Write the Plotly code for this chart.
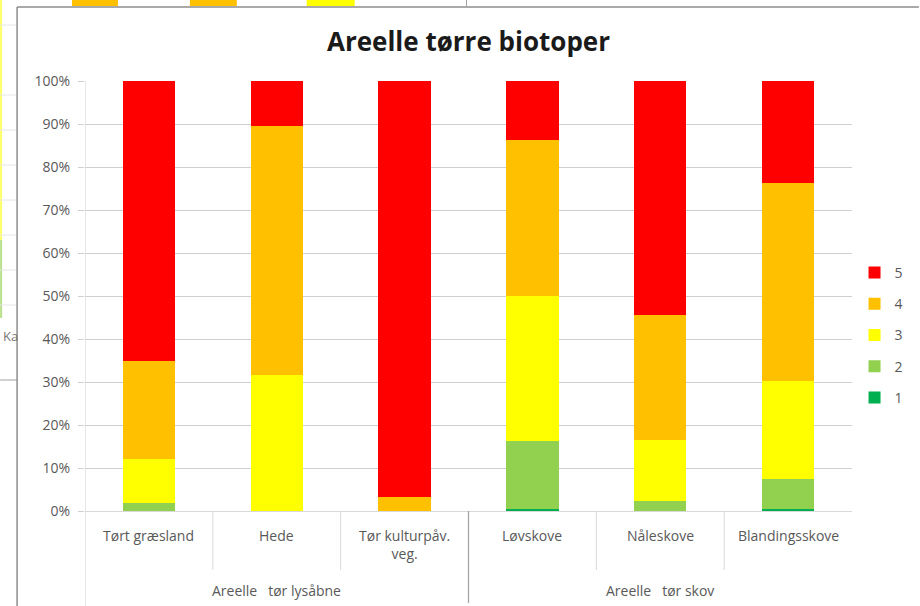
import plotly.graph_objects as go

categories = ["Tørt græsland", "Hede", "Tør kulturpåv.<br>veg.", "Løvskove", "Nåleskove", "Blandingsskove"]
groups = ["Areelle\u00a0\u00a0\u00a0tør lysåbne", "Areelle\u00a0\u00a0\u00a0tør skov"]
group_members = [[0, 1, 2], [3, 4, 5]]

series_names = ["1", "2", "3", "4", "5"]
v1 = [0.0, 0.0, 0.0, 0.4, 0.0, 0.4]
v2 = [1.8, 0.0, 0.0, 15.9, 2.3, 7.0]
v3 = [10.2, 31.6, 0.0, 33.7, 14.2, 22.8]
v4 = [23.0, 58.0, 3.2, 36.3, 29.1, 46.1]
v5 = [65.0, 10.4, 96.8, 13.7, 54.4, 23.7]
series_values = [v1, v2, v3, v4, v5]
colors = ["#00B050", "#92D050", "#FFFF00", "#FFC000", "#FF0000"]

y_ticks = list(range(0, 101, 10))

FONT = "Open Sans, Noto Sans, sans-serif"
GREY = "#595959"

fig = go.Figure()
for k, (name, vals, col) in enumerate(zip(series_names, series_values, colors)):
    fig.add_trace(go.Bar(
        x=list(range(len(categories))), y=vals, name=name,
        marker=dict(color=col, line=dict(width=0)),
        legendgroup=name, legendrank=1000 - k,
    ))

# plot area in pixels: x 85..853, y 81..511
L, R, T, B = 85, 853, 81, 511
def px(x):
    return (x - L) / (R - L)
def py(y):
    return (B - y) / (B - T)

shapes = []
# category dividers below axis
n = len(categories)
for i in range(n + 1):
    xb = i - 0.5
    if i == 0:
        shapes.append(dict(type="line", xref="x", yref="paper", x0=xb, x1=xb,
                           y0=py(606), y1=1, line=dict(color="#d0d0d0", width=1)))
    elif i == 3:
        shapes.append(dict(type="line", xref="x", yref="paper", x0=xb, x1=xb,
                           y0=py(603), y1=0, line=dict(color="#a6a6a6", width=1.3)))
    elif i < n:
        shapes.append(dict(type="line", xref="x", yref="paper", x0=xb, x1=xb,
                           y0=py(570), y1=0, line=dict(color="#d9d9d9", width=1)))

# background window remnants (frame and other chart behind)
bg = [
    ((72, 0, 118, 6), "#FFC000"),
    ((190, 0, 237, 6), "#FFC000"),
    ((307, 0, 355, 6), "#FFFF00"),
]
for (x0, y0, x1, y1), c in bg:
    shapes.append(dict(type="rect", xref="paper", yref="paper", x0=px(x0), x1=px(x1),
                       y0=py(y1), y1=py(y0), fillcolor=c, line=dict(width=0), layer="below"))
shapes.append(dict(type="line", xref="paper", yref="paper", x0=px(1), x1=px(1),
                   y0=py(240), y1=py(0), line=dict(color="#ffff66", width=2)))
shapes.append(dict(type="line", xref="paper", yref="paper", x0=px(1), x1=px(1),
                   y0=py(318), y1=py(240), line=dict(color="#b8e08a", width=2)))
for gy in [25, 95, 130, 165, 200, 235, 270, 305]:
    shapes.append(dict(type="line", xref="paper", yref="paper", x0=px(0), x1=px(16),
                       y0=py(gy), y1=py(gy), line=dict(color="#e6e6e6", width=1)))
shapes.append(dict(type="line", xref="paper", yref="paper", x0=px(0), x1=px(17),
                   y0=py(380), y1=py(380), line=dict(color="#a0a0a0", width=1)))
shapes.append(dict(type="line", xref="paper", yref="paper", x0=px(467), x1=px(467),
                   y0=py(6), y1=py(0), line=dict(color="#a0a0a0", width=1)))
# chart frame
shapes.append(dict(type="line", xref="paper", yref="paper", x0=px(17), x1=px(920),
                   y0=py(7), y1=py(7), line=dict(color="#8c8c8c", width=1.5)))
shapes.append(dict(type="line", xref="paper", yref="paper", x0=px(17), x1=px(17),
                   y0=py(606), y1=py(7), line=dict(color="#8c8c8c", width=1.5)))

annotations = []
for i, c in enumerate(categories):
    annotations.append(dict(x=i, y=py(524), xref="x", yref="paper", text=c, showarrow=False,
                            yanchor="top", font=dict(family=FONT, size=14, color=GREY),
                            align="center"))
for g, members in zip(groups, group_members):
    cx = (members[0] + members[-1]) / 2
    annotations.append(dict(x=cx, y=py(590), xref="x", yref="paper", text=g, showarrow=False,
                            yanchor="middle", font=dict(family=FONT, size=14, color=GREY)))
annotations.append(dict(x=px(1), y=py(336), xref="paper", yref="paper", text="Ka", showarrow=False,
                        xanchor="left", font=dict(family=FONT, size=13, color="#777777")))

fig.update_layout(
    width=920, height=606,
    margin=dict(l=L, r=920 - R, t=T, b=606 - B),
    barmode="stack", bargap=0.59,
    plot_bgcolor="white", paper_bgcolor="white",
    title=dict(text="<b>Areelle tørre biotoper</b>", x=0.5, xref="paper", xanchor="center",
               y=1 - 42 / 606, yanchor="middle",
               font=dict(family=FONT, size=26, color="#1a1a1a")),
    font=dict(family=FONT, size=14, color=GREY),
    xaxis=dict(range=[-0.5, n - 0.5], showticklabels=False, showgrid=False, zeroline=False,
               showline=True, linecolor="#d9d9d9", linewidth=1, ticks=""),
    yaxis=dict(range=[0, 100], tickvals=y_ticks, ticktext=[f"{t}%" for t in y_ticks],
               showgrid=True, gridcolor="#cfcfcf", gridwidth=1, zeroline=False,
               ticks="outside", ticklen=6, tickcolor="#cfcfcf",
               tickfont=dict(family=FONT, size=14, color=GREY), ticklabelstandoff=5,
               showline=False),
    legend=dict(x=1.002, xanchor="left", y=py(335), yanchor="middle", traceorder="grouped",
                tracegroupgap=10, font=dict(family=FONT, size=14, color=GREY),
                bgcolor="rgba(0,0,0,0)"),
    shapes=shapes, annotations=annotations,
)

fig.write_html("out.html", config={"displayModeBar": False},
               post_script="document.body.style.margin='0';document.body.style.overflow='hidden';")
